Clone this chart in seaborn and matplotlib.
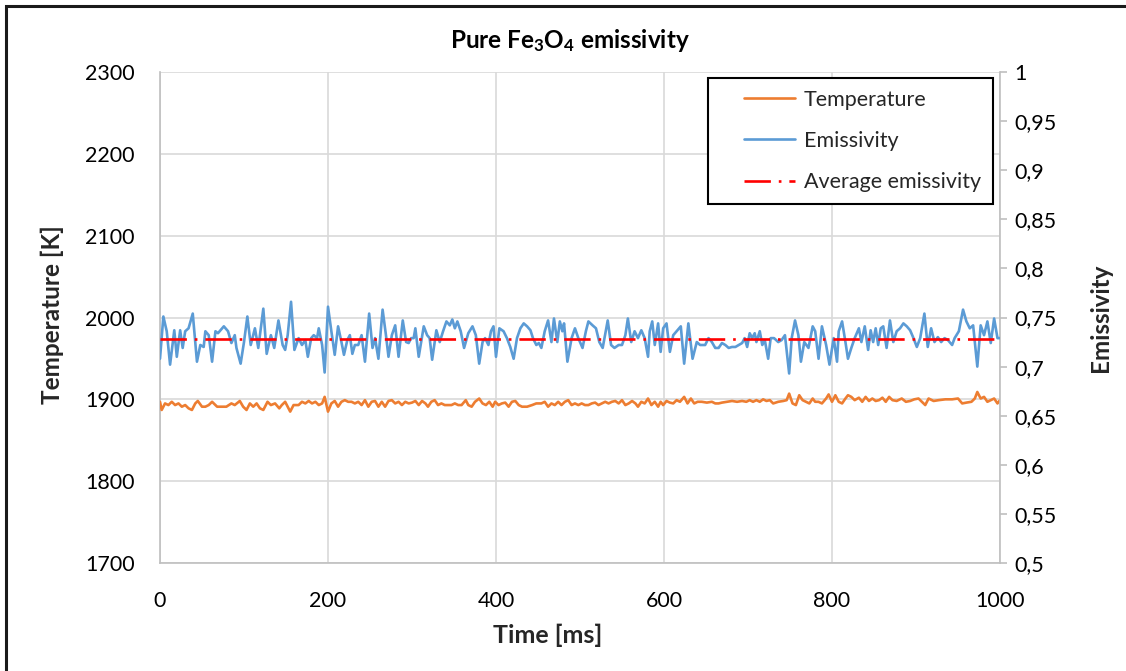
import numpy as np
import pandas as pd
import matplotlib
matplotlib.use("Agg")
import matplotlib.pyplot as plt
from matplotlib.ticker import FuncFormatter, MultipleLocator
from matplotlib.lines import Line2D
from matplotlib.patches import Rectangle
from matplotlib.legend_handler import HandlerLine2D
import seaborn as sns

# ---------------- data ----------------
emis_time = [0, 4, 8, 12, 17, 20, 24, 27, 30, 34, 39, 44, 48, 52, 54, 58, 62, 66, 69, 76,
             81, 85, 89, 91, 96, 100, 104, 108, 113, 117, 123, 127, 132, 136, 141, 146, 149, 152, 156, 160,
             165, 169, 173, 176, 180, 183, 187, 189, 193, 196, 200, 204, 208, 212, 216, 219, 223, 226, 229, 232,
             236, 240, 244, 249, 253, 256, 260, 265, 269, 272, 276, 280, 284, 289, 293, 296, 299, 302, 304, 308,
             314, 318, 321, 324, 329, 333, 337, 341, 345, 348, 351, 354, 358, 362, 367, 372, 376, 380, 384, 387,
             391, 394, 397, 400, 404, 409, 413, 417, 421, 425, 429, 433, 437, 441, 444, 448, 451, 454, 458, 462,
             466, 469, 473, 476, 479, 481, 485, 490, 494, 498, 503, 507, 510, 515, 519, 523, 527, 533, 537, 541,
             546, 550, 554, 557, 561, 565, 569, 573, 577, 581, 583, 586, 589, 593, 596, 599, 603, 607, 611, 615,
             620, 624, 629, 634, 639, 643, 649, 653, 657, 661, 665, 669, 673, 677, 681, 685, 689, 693, 696, 699,
             702, 705, 708, 710, 714, 717, 720, 724, 727, 731, 736, 740, 744, 749, 752, 756, 760, 763, 767, 772,
             777, 780, 784, 788, 793, 797, 802, 806, 808, 812, 816, 819, 823, 827, 832, 835, 839, 843, 846, 849,
             852, 855, 858, 861, 865, 869, 873, 877, 881, 885, 889, 893, 897, 901, 905, 910, 914, 918, 922, 926,
             930, 934, 938, 943, 946, 951, 956, 960, 964, 968, 973, 977, 981, 985, 989, 993, 997, 1000]
emis_value = [0.708, 0.751, 0.736, 0.702, 0.737, 0.710, 0.737, 0.719, 0.736, 0.739, 0.754, 0.705, 0.722, 0.720, 0.736, 0.732, 0.705, 0.736, 0.734, 0.741,
              0.736, 0.724, 0.732, 0.719, 0.703, 0.725, 0.751, 0.722, 0.739, 0.719, 0.759, 0.713, 0.732, 0.719, 0.747, 0.722, 0.717, 0.732, 0.766, 0.717,
              0.729, 0.722, 0.727, 0.710, 0.729, 0.732, 0.729, 0.739, 0.722, 0.694, 0.761, 0.736, 0.712, 0.741, 0.725, 0.712, 0.727, 0.732, 0.713, 0.722,
              0.722, 0.732, 0.705, 0.754, 0.719, 0.729, 0.708, 0.758, 0.732, 0.710, 0.732, 0.742, 0.710, 0.747, 0.725, 0.724, 0.729, 0.729, 0.739, 0.710,
              0.741, 0.732, 0.729, 0.707, 0.737, 0.725, 0.736, 0.746, 0.742, 0.748, 0.739, 0.746, 0.736, 0.719, 0.734, 0.741, 0.732, 0.703, 0.725, 0.729,
              0.722, 0.736, 0.741, 0.710, 0.739, 0.736, 0.729, 0.720, 0.708, 0.729, 0.739, 0.744, 0.741, 0.737, 0.729, 0.722, 0.724, 0.719, 0.736, 0.747,
              0.725, 0.749, 0.725, 0.746, 0.736, 0.744, 0.705, 0.729, 0.739, 0.729, 0.719, 0.736, 0.746, 0.742, 0.739, 0.725, 0.719, 0.747, 0.722, 0.719,
              0.722, 0.722, 0.732, 0.749, 0.725, 0.736, 0.729, 0.737, 0.729, 0.710, 0.736, 0.746, 0.722, 0.744, 0.715, 0.739, 0.744, 0.715, 0.732, 0.736,
              0.741, 0.703, 0.744, 0.708, 0.725, 0.722, 0.722, 0.729, 0.725, 0.719, 0.719, 0.724, 0.722, 0.719, 0.720, 0.720, 0.722, 0.724, 0.729, 0.720,
              0.734, 0.729, 0.734, 0.725, 0.736, 0.722, 0.727, 0.708, 0.729, 0.729, 0.725, 0.727, 0.732, 0.693, 0.729, 0.747, 0.732, 0.705, 0.725, 0.719,
              0.741, 0.736, 0.708, 0.741, 0.722, 0.702, 0.729, 0.705, 0.736, 0.746, 0.725, 0.708, 0.719, 0.729, 0.739, 0.725, 0.741, 0.717, 0.737, 0.725,
              0.739, 0.722, 0.739, 0.741, 0.719, 0.747, 0.725, 0.736, 0.739, 0.744, 0.741, 0.737, 0.729, 0.720, 0.729, 0.754, 0.720, 0.739, 0.725, 0.730,
              0.725, 0.729, 0.727, 0.722, 0.729, 0.736, 0.758, 0.746, 0.739, 0.742, 0.700, 0.742, 0.732, 0.746, 0.724, 0.749, 0.729, 0.729]

temp_time = [0, 2, 6, 10, 14, 18, 22, 26, 30, 34, 38, 42, 45, 50, 54, 58, 62, 68, 73, 79,
             85, 89, 95, 99, 103, 107, 111, 115, 119, 123, 128, 132, 137, 142, 145, 149, 155, 159, 165, 169,
             173, 177, 181, 185, 189, 193, 196, 200, 204, 208, 212, 216, 220, 224, 228, 232, 236, 240, 244, 248,
             252, 256, 260, 264, 268, 272, 276, 280, 284, 288, 292, 296, 300, 304, 308, 312, 316, 319, 323, 327,
             331, 335, 339, 343, 347, 351, 355, 359, 364, 367, 371, 375, 380, 384, 388, 392, 396, 399, 403, 407,
             411, 415, 419, 423, 427, 431, 437, 443, 448, 454, 458, 462, 466, 470, 474, 478, 482, 486, 490, 494,
             498, 502, 506, 510, 514, 518, 522, 526, 530, 534, 538, 542, 546, 550, 554, 558, 562, 566, 569, 573,
             577, 581, 585, 589, 593, 596, 599, 603, 607, 611, 615, 619, 624, 628, 632, 636, 640, 645, 651, 657,
             661, 665, 669, 675, 681, 687, 693, 698, 702, 706, 710, 714, 718, 722, 726, 730, 736, 742, 746, 749,
             753, 757, 761, 765, 769, 773, 777, 780, 784, 788, 793, 796, 800, 804, 808, 812, 816, 819, 823, 827,
             832, 836, 840, 844, 848, 852, 856, 860, 864, 868, 872, 877, 883, 888, 893, 898, 903, 907, 911, 915,
             921, 927, 935, 943, 950, 955, 960, 966, 970, 973, 977, 981, 985, 989, 993, 997, 1000]
temp_value = [1897, 1887, 1895, 1893, 1897, 1893, 1895, 1891, 1893, 1889, 1887, 1895, 1898, 1891, 1891, 1893, 1897, 1891, 1891, 1891,
              1895, 1893, 1898, 1891, 1887, 1895, 1891, 1895, 1889, 1887, 1897, 1893, 1895, 1889, 1893, 1897, 1885, 1893, 1893, 1897,
              1895, 1898, 1895, 1897, 1893, 1895, 1903, 1885, 1895, 1898, 1891, 1897, 1899, 1897, 1897, 1895, 1897, 1893, 1899, 1891,
              1897, 1898, 1891, 1897, 1891, 1898, 1899, 1895, 1897, 1893, 1897, 1895, 1896, 1898, 1893, 1898, 1895, 1891, 1897, 1899,
              1893, 1895, 1893, 1893, 1893, 1895, 1893, 1893, 1899, 1893, 1891, 1897, 1901, 1895, 1893, 1897, 1891, 1897, 1893, 1895,
              1896, 1891, 1897, 1898, 1893, 1891, 1891, 1893, 1895, 1895, 1897, 1891, 1895, 1893, 1897, 1893, 1897, 1899, 1893, 1895,
              1893, 1895, 1893, 1893, 1895, 1896, 1893, 1895, 1897, 1895, 1897, 1898, 1895, 1899, 1893, 1895, 1898, 1895, 1891, 1897,
              1895, 1901, 1893, 1897, 1891, 1897, 1893, 1898, 1896, 1895, 1899, 1897, 1903, 1895, 1901, 1895, 1897, 1897, 1896, 1897,
              1895, 1895, 1896, 1897, 1898, 1897, 1898, 1897, 1899, 1897, 1899, 1897, 1900, 1898, 1899, 1895, 1897, 1898, 1899, 1907,
              1895, 1893, 1905, 1899, 1897, 1895, 1901, 1897, 1897, 1895, 1901, 1906, 1897, 1905, 1897, 1895, 1901, 1905, 1903, 1899,
              1902, 1897, 1903, 1898, 1901, 1898, 1899, 1902, 1897, 1903, 1899, 1898, 1901, 1897, 1898, 1900, 1901, 1897, 1893, 1901,
              1898, 1899, 1900, 1900, 1901, 1895, 1896, 1897, 1901, 1909, 1901, 1903, 1897, 1899, 1901, 1895, 1899]

avg_time = [0, 1000]
avg_value = [0.728, 0.728]

title_text = "Pure Fe$_3$O$_4$ emissivity"
x_label = "Time [ms]"
y_left_label = "Temperature [K]"
y_right_label = "Emissivity"
legend_labels = ["Temperature", "Emissivity", "Average emissivity"]

# ---------------- style ----------------
sns.set_theme(style="white")
plt.rcParams["font.family"] = ["Lato", "DejaVu Sans"]
plt.rcParams["mathtext.fontset"] = "custom"
plt.rcParams["mathtext.rm"] = "Lato:bold"
plt.rcParams["mathtext.it"] = "Lato:bold"
plt.rcParams["mathtext.bf"] = "Lato:bold"

C_TEMP = "#ED7D31"
C_EMIS = "#5B9BD5"
C_AVG = "#FF0000"
C_GRID = "#D9D9D9"
C_SPINE = "#BFBFBF"
C_TEXT = "#000000"
W = 1126
H = 671

fig = plt.figure(figsize=(W / 100, H / 100), dpi=100)
ax = fig.add_axes([160 / W, 1 - 563 / H, 840 / W, 491 / H])
ax2 = ax.twinx()

temp_df = pd.DataFrame({"t": temp_time, "T": temp_value})
emis_df = pd.DataFrame({"t": emis_time, "e": emis_value})
avg_df = pd.DataFrame({"t": avg_time, "e": avg_value})

sns.lineplot(data=temp_df, x="t", y="T", ax=ax, color=C_TEMP, linewidth=1.9, zorder=3)
sns.lineplot(data=emis_df, x="t", y="e", ax=ax2, color=C_EMIS, linewidth=1.9, zorder=3)
sns.lineplot(data=avg_df, x="t", y="e", ax=ax2, color=C_AVG, linewidth=1.9, zorder=4)
ax2.lines[-1].set_dashes([10, 3, 1, 3])

ax.set_xlim(0, 1000)
ax.set_ylim(1700, 2300)
ax2.set_ylim(0.5, 1.0)
ax.xaxis.set_major_locator(MultipleLocator(200))
ax.yaxis.set_major_locator(MultipleLocator(100))
ax2.yaxis.set_major_locator(MultipleLocator(0.05))


def comma_fmt(v, pos):
    s = f"{v:.2f}".rstrip("0").rstrip(".")
    return s.replace(".", ",")


ax2.yaxis.set_major_formatter(FuncFormatter(comma_fmt))

ax.grid(True, color=C_GRID, linewidth=1.2, zorder=0)
ax.set_axisbelow(True)
ax2.grid(False)

for a in (ax, ax2):
    a.spines["top"].set_visible(False)
    for side in ("left", "bottom", "right"):
        a.spines[side].set_color(C_SPINE)
        a.spines[side].set_linewidth(1.2)
ax.spines["right"].set_visible(False)
ax2.spines["left"].set_visible(False)
ax2.spines["bottom"].set_visible(False)

ax.tick_params(axis="both", which="major", length=0, labelsize=15.5, colors=C_TEXT)
ax.tick_params(axis="y", pad=18)
ax.tick_params(axis="x", pad=20)
ax2.tick_params(axis="y", which="major", length=5, width=1.2, color=C_SPINE,
                direction="out", labelsize=15.5, labelcolor=C_TEXT, pad=5)

ax.set_xlabel(x_label, fontsize=18, fontweight="bold")
ax.xaxis.set_label_coords((548 - 160) / 840, -(635 - 563) / 491)
ax.xaxis.label.set_va("center")
ax.set_ylabel(y_left_label, fontsize=17.5, fontweight="bold")
ax.yaxis.set_label_coords(-(160 - 52) / 840, (563 - 315) / 491)
ax.yaxis.label.set_va("center")
ax2.set_ylabel(y_right_label, fontsize=17.5, fontweight="bold", rotation=90)
ax2.yaxis.set_label_coords((1100 - 160) / 840, (563 - 318) / 491)
ax2.yaxis.label.set_va("center")

fig.text(570 / W, 1 - 40 / H, title_text, ha="center", va="center",
         fontsize=17.5, fontweight="bold", color=C_TEXT)

handles = [Line2D([], [], color=C_TEMP, linewidth=1.9),
           Line2D([], [], color=C_EMIS, linewidth=1.9),
           Line2D([], [], color=C_AVG, linewidth=1.9, dashes=[10, 3, 1, 3])]
hmap = {h: HandlerLine2D(xpad=1.1) for h in handles}
leg = ax2.legend(handles, legend_labels, loc="upper right",
                 bbox_to_anchor=(993 / W, 1 - 78 / H), bbox_transform=fig.transFigure,
                 fontsize=15.5, frameon=True, fancybox=False, edgecolor="#000000",
                 framealpha=1, borderpad=0.55, labelspacing=0.98, handlelength=3.5,
                 handletextpad=0.4, borderaxespad=0, handler_map=hmap)
leg.get_frame().set_linewidth(1.5)

# figure border
fig.patches.append(Rectangle((6 / W, -0.05), 1.1, 1.05 - 6 / H,
                             transform=fig.transFigure, fill=False,
                             edgecolor="#1a1a1a", linewidth=2.2, zorder=10))

fig.savefig("out.png", dpi=100)
